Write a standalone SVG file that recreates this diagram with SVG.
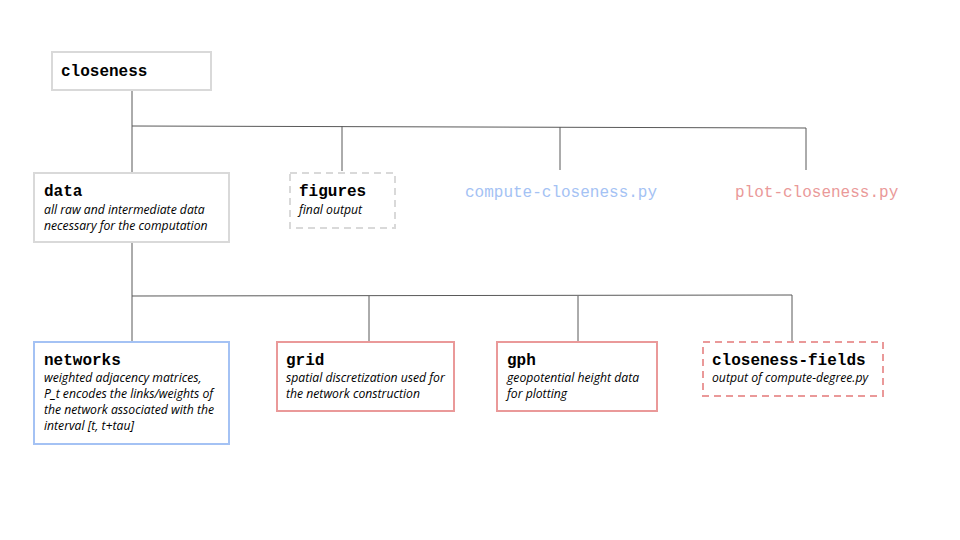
<svg xmlns="http://www.w3.org/2000/svg" width="960" height="540" viewBox="0 0 960 540">
<style>
.box{fill:#fff;stroke-width:2}
.gray{stroke:#d9d9d9}
.blue{stroke:#a4c2f4}
.red{stroke:#ea9999}
.dash{stroke-dasharray:7,5}
.title{font-family:"Liberation Mono",monospace;font-weight:bold;font-size:16px;fill:#000}
.sub{font-family:"Open Sans","Noto Sans",sans-serif;font-style:italic;font-size:12.2px;fill:#000}
.file{font-family:"Liberation Mono",monospace;font-size:16px}
.conn{fill:none;stroke:#595959;stroke-width:1}
</style>
<rect width="960" height="540" fill="#fff"/>
<g id="connectors">
<path class="conn" d="M132 90V126M132 126L806 128M132 126V173M342 126V171M560 127V170M806 128V170"/>
<path class="conn" d="M132 242V296M132 296L792 295M132 296V342M369 296V342M578 296V342M792 295V342"/>
</g>
<g id="closeness">
<rect class="box gray" x="52" y="52" width="159" height="38"/>
<text class="title" x="61" y="76">closeness</text>
</g>
<g id="data">
<rect class="box gray" x="34" y="173" width="195" height="69"/>
<text class="title" x="44" y="196">data</text>
<text class="sub" x="44" y="214">all raw and intermediate data</text>
<text class="sub" x="44" y="230">necessary for the computation</text>
</g>
<g id="figures">
<rect class="box gray dash" x="290" y="173" width="105" height="55"/>
<text class="title" x="299" y="196">figures</text>
<text class="sub" x="299" y="214">final output</text>
</g>
<g id="compute-closeness">
<text class="file" x="465" y="197" fill="#a4c2f4">compute-closeness.py</text>
</g>
<g id="plot-closeness">
<text class="file" x="735" y="197" fill="#ea9999">plot-closeness.py</text>
</g>
<g id="networks">
<rect class="box blue" x="34" y="342" width="195" height="102"/>
<text class="title" x="44" y="365">networks</text>
<text class="sub" x="44" y="382">weighted adjacency matrices,</text>
<text class="sub" x="44" y="398">P_t encodes the links/weights of</text>
<text class="sub" x="44" y="414">the network associated with the</text>
<text class="sub" x="44" y="430">interval [t, t+tau]</text>
</g>
<g id="grid">
<rect class="box red" x="277" y="342" width="177" height="69"/>
<text class="title" x="286" y="365">grid</text>
<text class="sub" x="286" y="382">spatial discretization used for</text>
<text class="sub" x="286" y="398">the network construction</text>
</g>
<g id="gph">
<rect class="box red" x="497" y="342" width="160" height="69"/>
<text class="title" x="507" y="365">gph</text>
<text class="sub" x="507" y="382">geopotential height data</text>
<text class="sub" x="507" y="398">for plotting</text>
</g>
<g id="closeness-fields">
<rect class="box red dash" x="703" y="342" width="180" height="54"/>
<text class="title" x="712" y="365">closeness-fields</text>
<text class="sub" x="712" y="382">output of compute-degree.py</text>
</g>
</svg>
